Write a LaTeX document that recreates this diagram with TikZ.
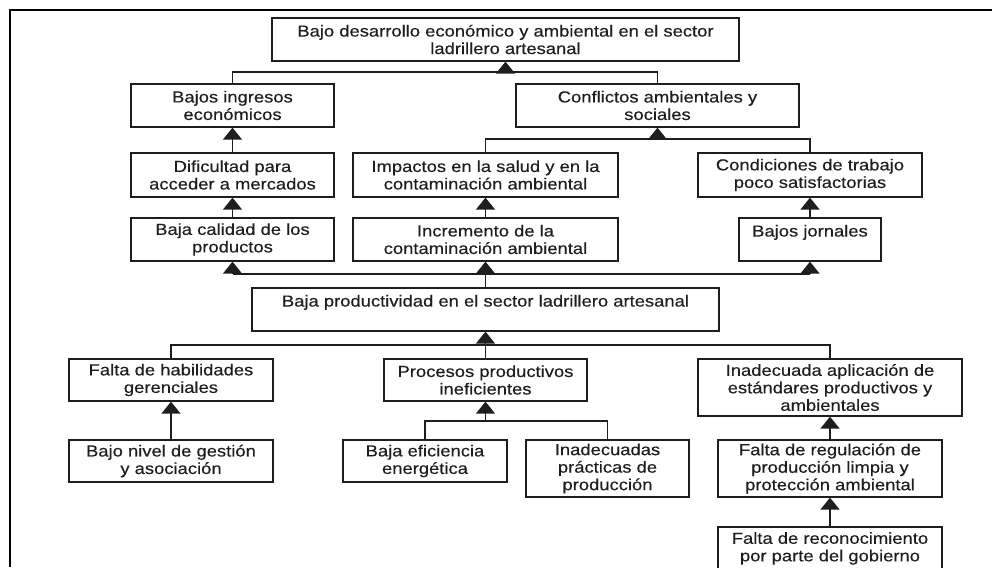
\documentclass[tikz,border=0pt]{standalone}
\usepackage{fontspec}
\setmainfont{Liberation Sans}[FakeStretch=1.15,FakeBold=0.35]
\usetikzlibrary{arrows.meta}
\definecolor{ink}{HTML}{1E1E1E}
\tikzset{
  box/.style={draw=ink, line width=1.3pt, rectangle, inner sep=0pt, align=center,
    text=ink, font=\fontsize{16}{17.5}\selectfont},
  conn/.style={draw=ink, line width=1.5pt},
  arr/.style={conn, -{Triangle[width=19pt,length=12pt]}},
}
\begin{document}
\begin{tikzpicture}[x=1pt,y=-1pt]
\clip (0,0) rectangle (992,567);
% open frame
\draw[line width=1.8pt, black] (10,567) -- (10,10) -- (992,10);

% row 0
\node[box, minimum width=467pt, minimum height=43pt] (top) at (505.5,39.5)
  {Bajo desarrollo económico y ambiental en el sector\\ladrillero artesanal};
% row 1
\node[box, minimum width=203pt, minimum height=43pt] (ingresos) at (232.5,105.5)
  {Bajos ingresos\\económicos};
\node[box, minimum width=283pt, minimum height=43pt] (conflictos) at (657.5,105.5)
  {Conflictos ambientales y\\sociales};
% row 2
\node[box, minimum width=203pt, minimum height=44pt] (dificultad) at (232.5,175)
  {Dificultad para\\acceder a mercados};
\node[box, minimum width=265pt, minimum height=44pt] (impactos) at (485.5,175)
  {Impactos en la salud y en la\\contaminación ambiental};
\node[box, minimum width=224pt, minimum height=44pt] (condiciones) at (810,175)
  {Condiciones de trabajo\\poco satisfactorias};
% row 3
\node[box, minimum width=203pt, minimum height=43pt] (calidad) at (232.5,239.5)
  {Baja calidad de los\\productos};
\node[box, minimum width=265pt, minimum height=43pt] (incremento) at (485.5,239.5)
  {Incremento de la\\contaminación ambiental};
\node[box, minimum width=142pt, minimum height=43pt] (jornales) at (810,239.5)
  {Bajos jornales\\\mbox{}};
% central problem
\node[box, minimum width=467pt, minimum height=43pt] (productividad) at (485.5,309.5)
  {Baja productividad en el sector ladrillero artesanal\\\mbox{}};
% causes
\node[box, minimum width=204pt, minimum height=42pt] (habilidades) at (171,380)
  {Falta de habilidades\\gerenciales};
\node[box, minimum width=203pt, minimum height=42pt] (procesos) at (485.5,380)
  {Procesos productivos\\ineficientes};
\node[box, minimum width=264pt, minimum height=57pt] (aplicacion) at (830,387.5)
  {Inadecuada aplicación de\\estándares productivos y\\ambientales};
\node[box, minimum width=204pt, minimum height=42pt] (gestion) at (171,461)
  {Bajo nivel de gestión\\y asociación};
\node[box, minimum width=164pt, minimum height=42pt] (eficiencia) at (425,461)
  {Baja eficiencia\\energética};
\node[box, minimum width=163pt, minimum height=57pt] (practicas) at (607.5,468.5)
  {Inadecuadas\\prácticas de\\producción};
\node[box, minimum width=224pt, minimum height=57pt] (regulacion) at (830,468.5)
  {Falta de regulación de\\producción limpia y\\protección ambiental};
\node[box, minimum width=224pt, minimum height=57pt] (reconocimiento) at (830,555.5)
  {Falta de reconocimiento\\por parte del gobierno\\\mbox{}};

% junction coordinates
\coordinate (j1) at (505.5,72);
\coordinate (j2) at (657.5,139);
\coordinate (j3) at (485.5,274);
\coordinate (j4) at (485.5,345);
\coordinate (j5) at (485.5,421);

% effects tree
\draw[conn] (ingresos.north) |- (j1) -| (conflictos.north);
\draw[arr] (j1) -- (top.south);
\draw[conn] (impactos.north) |- (j2) -| (condiciones.north);
\draw[arr] (j2) -- (conflictos.south);
\draw[arr] (dificultad.north) -- (ingresos.south);
\draw[arr] (calidad.north) -- (dificultad.south);
\draw[arr] (incremento.north) -- (impactos.south);
\draw[arr] (jornales.north) -- (condiciones.south);
\draw[conn] (calidad.south |- j3) -- (jornales.south |- j3);
\draw[arr] (calidad.south |- j3) -- (calidad.south);
\draw[arr] (jornales.south |- j3) -- (jornales.south);
\draw[arr] (productividad.north) -- (incremento.south);

% causes tree
\draw[conn] (habilidades.north) |- (j4) -| (aplicacion.north);
\draw[arr] (procesos.north) -- (productividad.south);
\draw[arr] (gestion.north) -- (habilidades.south);
\draw[conn] (eficiencia.north) |- (j5) -| (practicas.north);
\draw[arr] (j5) -- (procesos.south);
\draw[arr] (regulacion.north) -- (aplicacion.south);
\draw[arr] (reconocimiento.north) -- (regulacion.south);
\end{tikzpicture}
\end{document}
